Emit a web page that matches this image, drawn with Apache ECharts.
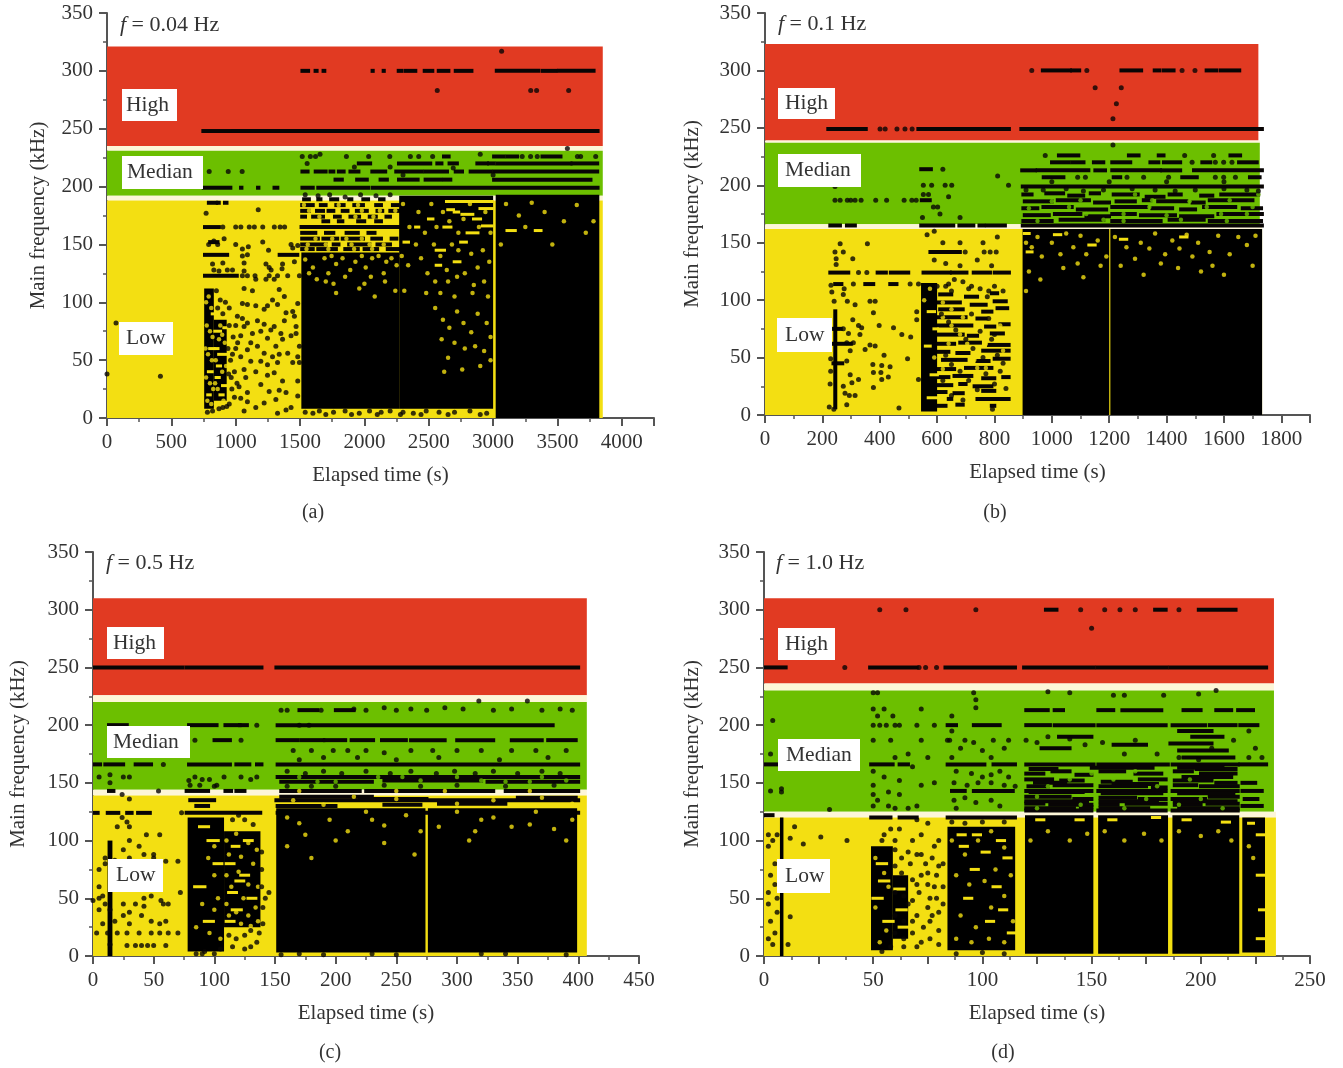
<!DOCTYPE html>
<html><head><meta charset="utf-8">
<script src="https://cdn.jsdelivr.net/npm/echarts@6/dist/echarts.min.js"></script>
<style>html,body{margin:0;background:#fff}#c{width:1343px;height:1068px}</style></head>
<body><div id="c"></div>
<script>
// ---------- panel (a) ----------
const bandsA=[[0,3852,235,321,'high'],[0,3852,231,235,'gap'],[0,3852,192,231,'mid'],[0,3852,188,192,'gap'],[0,3852,0,188,'low']];
const blocksA=[[755,830,8,112],[830,930,15,85],[1510,2270,8,143],[2270,3000,8,192],[3020,3825,0,193]];
const gapsA=[[800,830,60],[790,815,40],[820,830,90],[785,800,20],[840,880,75],[870,920,55],[850,870,35],[900,930,28],[880,900,20],[845,860,60],[910,930,78],[860,880,45],
[2640,2990,187],[2700,2730,178],[2850,2900,172],[2400,2420,165],[2500,2530,172],[2310,2340,152],[2750,2790,152],[2560,2620,145],[2560,2590,132],[2700,2740,135],[3110,3170,162],[3330,3370,162],[2650,2690,180],[2760,2840,176],[2900,2990,181],[2620,2670,165],[2800,2880,160],[2920,2990,166]];
const rowsA=[[1517,1564,300],[1619,1630,300],[1681,1690,300],[2062,2066,300],[2148,2152,300],[2265,2290,300],[2320,2397,300],[2467,2529,300],[2576,2654,300],[2708,2833,300],[3027,3354,300],[3385,3486,300],[3510,3782,300],
[747,957,248],[980,3813,248],
[750,960,199],[1040,1046,199],[1172,1178,199],[1300,1325,199],[1517,1600,199],[1640,2030,199],[2062,3813,199],
[1517,1560,213],[1620,1700,213],[1735,1760,213],[1800,1840,213],[1890,1955,213],[2060,2163,213],[2246,2448,213],[2474,2643,213],[2708,2760,213],[2824,2980,213],[3006,3810,213],
[1955,2046,220],[2267,2513,220],[2565,2600,220],[2660,2720,220],[2876,2954,220],[2967,3006,220],[3032,3603,220],[3615,3810,220],
[1774,1826,206],[1942,2020,206],[2124,2176,206],[2267,2415,206],[2474,2591,206],[2617,2669,206],[3006,3758,206],
[2617,2656,226],[3006,3084,226],[3110,3188,226],[3382,3525,226],
[1530,1570,189],[1640,1660,189],[1740,1790,189],[1880,1900,189],[1990,2030,189],[2120,2150,189],
[1515,1600,184],[1660,1700,184],[1780,1840,184],[1920,1990,184],[2090,2130,184],[2220,2260,184],
[1515,1570,179],[1630,1680,179],[1720,1760,179],[1830,1870,179],[1940,2020,179],[2100,2140,179],[2200,2265,179],
[1515,1540,174],[1600,1680,174],[1770,1810,174],[1890,1960,174],[2040,2090,174],[2170,2200,174],
[1680,1720,170],[1800,1830,170],[1950,2000,170],[2090,2130,170],[1510,2270,165],
[1515,1620,160],[1700,1760,160],[1860,1950,160],[2030,2080,160],
[1515,1640,155],[1680,1790,155],[1830,1990,155],[2060,2130,155],[2210,2250,155],
[1515,1700,150],[1760,1800,150],[1880,2040,150],[2100,2200,150],
[1515,1600,146],[1640,1780,146],[1850,1950,146],[2000,2100,146],[2180,2270,146],
[790,850,186],[860,870,186],[915,930,186],[760,870,165],[760,935,141],[1340,1480,141],[760,1010,123],[800,860,152]];
const holesA=[770,100,790,105,810,95,775,80,800,75,820,70,765,60,785,55,815,50,770,35,800,30,825,25,780,15,810,12,845,50,870,68,895,40,915,65,860,25,905,15,925,45,880,80,840,30,895,72,
1540,137,1570,125,1600,130,1630,120,1690,138,1720,125,1745,140,1780,133,1830,138,1850,122,1890,128,1930,135,1980,140,2010,130,2050,122,2060,138,2110,140,2150,125,2170,135,2210,138,2250,132,1700,118,1760,116,2000,116,2160,118,1960,112,2240,110,1780,108,2080,105,
1560,150,1620,155,1550,146,1700,150,1750,155,1720,146,1900,150,1860,155,1980,155,1920,146,2060,146,2150,150,2040,150,1530,184,1570,179,1650,174,1800,184,1950,184,1980,179,2120,179,2240,179,1930,174,2070,174,
2550,95,2610,85,2660,78,2720,92,2770,82,2830,74,2880,90,2950,82,2980,70,2600,68,2700,65,2780,60,2860,62,2930,58,2650,52,2980,50,2900,45,2620,40,2760,42,
2300,185,2350,165,2420,178,2470,160,2520,185,2560,165,2610,178,2660,170,2730,160,2770,172,2820,185,2890,165,2940,178,2980,160,2290,140,2340,132,2400,150,2440,138,2490,125,2540,150,2590,140,2640,128,2680,150,2730,145,2780,125,2830,142,2880,130,2920,145,2970,135,2310,110,2480,108,2550,118,2650,118,2720,122,2850,115,2930,118,2590,108,2700,105,2840,108,2960,105,
3060,150,3200,175,3250,165,3400,178,3550,170,3650,184,3720,160,3780,170,3460,150,3100,185,3300,186];
const greenA=[];
const dotsA=[0,38,70,82,415,36,1517,226,1555,220,1580,226,1620,226,1655,228,794,213,942,213,1050,213,3066,317,2566,283,3292,283,3338,283,3587,283,3577,233,1860,226,2033,226,2197,226,2357,226,2422,226,3226,226,3291,226,3343,226,3655,226,3680,226,3797,226,1922,217,2200,217,2300,210,2690,216,2530,226,2900,228,3000,210,
770,177,1175,180,900,165,1000,165,1040,165,1105,165,1145,165,1210,165,1300,165,1345,165,1380,165,
790,150,830,153,860,150,910,155,1000,150,1052,146,1098,148,1210,152,1255,145,1430,150,1482,149,1443,147,
1052,140,1091,141,1065,134,1065,127,1235,133,1260,130,1275,128,1364,133,1360,129,1456,135,820,133,900,134,830,128,870,127,935,128,975,128,
1052,123,1091,123,1150,123,1260,123,1325,123,1404,123,1495,123,1156,120,1235,120,1299,120,
1065,112,1130,110,1338,111,1378,105,1482,99,1052,99,1091,98,1156,97,1247,97,1286,102,1221,94,1325,98,1391,91,1443,92,1456,88,1013,88,1052,86,1091,82,1169,84,1221,81,1299,79,1378,84,1469,79,1065,79,1130,73,1195,75,1273,76,1351,73,1469,73,1039,71,1117,65,1169,62,1247,69,1312,62,1364,68,1430,71,1495,62,1091,59,1221,56,1286,53,1338,55,1404,56,1482,53,1039,53,1117,49,1195,49,1247,46,1325,48,1443,48,1495,48,1065,42,1156,40,1247,37,1299,39,1364,32,1482,32,1078,35,1026,27,1091,22,1195,29,1260,23,1338,24,1391,22,1482,19,1039,17,1156,9,1221,13,1325,4,1391,7,1430,9,1065,6,1312,16,1091,14,
850,110,880,102,920,100,950,95,860,95,900,90,950,80,980,70,960,50,990,40,970,25,950,12,990,18,1000,60,780,5,820,6,870,8,900,9,930,10,940,60,965,35,1010,30,1000,80,975,55,945,38,1015,65,
1540,5,1600,4,1650,6,1760,5,1850,6,1960,4,2040,6,2130,5,2200,6,2300,5,2380,4,2480,6,2580,5,2700,5,2820,6,2950,4,2280,3,2440,3,2650,3,2900,3,1700,3,1900,3,2100,3,
1540,193,1640,192,1730,193,1850,191,1970,193,2090,192,2200,193];

// ---------- panel (b) ----------
const bandsB=[[0,1720,239,323,'high'],[0,1725,237,239,'gap'],[0,1725,166,237,'mid'],[0,1733,162,166,'gap'],[0,1733,0,162,'low']];
const blocksB=[[238,252,5,92],[544,600,3,115],[898,1200,0,162],[1204,1733,0,162]];
const gapsB=[[905,920,158],[1010,1030,157],[915,930,142],[1130,1150,148],[1240,1260,153],[1450,1470,155],[560,575,60],[570,590,90],[580,600,35],[590,600,75],[570,600,15]];
const holesB=[910,150,930,146,950,155,965,138,1000,150,1030,140,1050,158,1075,146,1100,156,1120,140,1160,152,1190,138,1220,155,1260,146,1290,136,1310,150,1340,145,1360,158,1395,140,1420,152,1445,145,1470,157,1490,138,1510,150,1550,142,1580,156,1620,140,1650,155,1680,148,1710,156,920,125,960,118,1040,128,1110,120,1170,130,1320,122,1440,128,1520,125,1600,122,1700,130,910,108,1380,132,1240,130,1090,132,1560,130,
620,98,650,78,640,62,620,40,690,85,705,62,730,48,770,62,820,78,830,56,770,41,650,92,680,70,740,41,620,85,555,100,575,110,590,50];
const greenB=[1000,186,1060,181,1120,175,1180,170,1290,192,1340,181,1400,174,1480,186,1540,181,1620,187,1680,175,1700,181,950,169,1100,187,1250,169,1450,170,1610,169,1720,192,920,180,1250,175,1350,187,1590,175];
const rowsB=[[968,1064,300],[1070,1096,300],[1242,1312,300],[1358,1376,300],[1390,1425,300],[1539,1574,300],[1588,1654,300],
[220,352,249],[534,851,249],[893,1733,249],
[227,262,165],[285,314,165],[544,657,165],[677,727,165],[747,762,165],[773,837,165],[898,1733,165],
[546,575,187],[544,579,214],[898,1733,199],
[1024,1093,226],[1268,1303,226],[1372,1390,226],[1622,1657,226],
[1000,1058,220],[1070,1111,220],[1146,1180,220],[1210,1274,220],[1343,1372,220],[1390,1448,220],[1524,1553,220],[1652,1715,220],
[896,942,213],[950,1128,213],[1151,1186,213],[1210,1378,213],[1384,1448,213],[1495,1733,213],
[971,1041,207],[1215,1239,207],[1454,1506,207],[1690,1725,207],
[900,930,192],[980,1040,193],[1060,1110,191],[1135,1165,193],[1215,1300,192],[1330,1390,190],[1410,1450,192],[1520,1560,191],[1590,1720,192],
[905,1000,186],[1020,1130,187],[1150,1200,185],[1225,1290,186],[1320,1345,187],[1370,1470,186],[1490,1530,185],[1550,1700,187],
[900,950,180],[970,1070,181],[1090,1190,179],[1210,1330,181],[1350,1420,180],[1450,1500,179],[1530,1640,181],[1665,1730,180],
[905,990,174],[1010,1100,175],[1120,1200,173],[1210,1290,175],[1310,1430,174],[1450,1560,173],[1580,1733,175],
[900,1000,169],[1030,1180,170],[1210,1380,169],[1410,1530,170],[1550,1730,169],
[227,291,124],[392,422,124],[438,500,124],[552,645,124],[651,703,124],[727,785,124],[800,851,124],
[244,267,114],[349,378,114],[436,459,114],[576,680,142],[238,300,62],[240,265,75],[238,270,45],
[610,650,105],[700,740,103],[790,810,106],[600,680,98],[720,770,96],[800,840,99],[610,690,92],[760,790,90],[810,845,93],[600,700,85],[740,770,84],[600,720,78],[770,800,77],[820,850,79],[600,690,70],[710,740,69],[790,830,71],[600,660,62],[680,750,63],[780,850,61],[600,640,55],[670,710,54],[760,850,56],[620,700,48],[740,780,47],[800,850,49],[600,660,40],[700,790,41],[600,640,33],[660,720,34],[760,800,32],[830,850,33],[600,650,26],[680,700,27],[730,790,25],[600,630,20],[660,690,19],[760,800,21],[640,650,14],[740,850,14],[600,630,8],[670,690,9],[790,800,8]];
const dotsB=[930,300,1122,300,1454,300,1499,300,1151,285,1242,285,1225,271,1213,258,1213,235,401,249,419,249,460,249,488,249,513,249,
977,226,1463,226,1564,226,1489,220,1570,220,1599,220,1628,220,1090,207,1117,207,1262,207,1320,207,1407,207,1570,207,1599,207,1640,207,
244,187,262,187,287,187,299,187,314,187,335,187,386,187,424,187,485,187,512,187,527,187,244,199,552,200,581,200,628,200,651,200,849,200,620,214,811,208,640,190,552,192,570,192,587,181,602,181,549,172,610,175,680,172,
224,7,240,5,467,6,793,5,262,149,357,149,244,142,273,142,248,136,306,136,248,131,230,113,276,110,233,107,273,105,241,99,287,99,314,96,366,99,384,99,378,89,529,90,529,83,306,83,326,78,337,76,398,78,448,76,477,70,508,68,273,75,291,71,331,70,308,63,285,63,384,60,366,61,349,57,297,56,415,52,497,49,285,47,376,44,407,43,436,42,378,37,404,37,407,31,430,33,378,24,297,35,326,31,303,28,273,25,279,19,314,17,294,17,285,9,535,31,229,49,229,38,227,27,
326,124,355,124,308,114,506,114,535,114,698,142,764,142,785,142,806,142,620,150,680,150,760,150,810,155,565,157,590,160,630,132,680,130,790,130,590,135,740,135,800,112,720,112,640,114,690,116,650,108,780,108,
615,88,640,81,665,74,700,66,725,58,760,50,790,66,810,52,830,45,720,88,750,73,780,84,800,70,630,52,650,44,680,38,710,30,740,22,770,36,800,27,840,23,620,30,650,17,690,13,820,38,600,112,630,112,660,118,710,110,750,110,775,103,830,108,
910,196,970,196,1050,197,1110,195,1180,196,1280,197,1360,196,1430,195,1500,196,1600,197,1680,196,1720,195,1000,203,1200,203,1400,203,1600,203];

// ---------- panel (c) ----------
const bandsC=[[0,407,226,310,'high'],[0,407,220,226,'gap'],[0,407,144,220,'mid'],[0,407,139,144,'gap'],[0,407,0,139,'low']];
const blocksC=[[12,16,0,100],[78,108,4,120],[108,138,25,108],[151,274,3,128],[276,399,3,128]];
const gapsC=[[95,103,100],[88,95,112],[84,92,60],[92,99,30],[100,106,80],[115,120,95],[110,116,80],[122,128,70],[112,118,55],[128,134,50],[115,122,40],[110,116,30],[125,131,100],[118,124,65]];
const holesC=[110,100,118,106,128,98,135,92,112,88,122,86,132,80,110,70,120,73,128,62,136,60,114,60,124,50,134,42,110,45,118,38,128,35,136,30,112,35,122,28,130,26,100,95,95,85,103,50,90,45,100,40,96,20,85,25,105,15,100,70,
160,120,175,105,195,118,210,108,225,125,240,113,258,122,270,108,285,112,300,125,315,108,330,120,345,112,365,125,380,110,395,118,160,95,200,100,240,98,310,100,390,100,180,85,265,88,170,115,230,118,320,118,360,114,
165,135,190,131,215,138,250,136,300,132,330,135,370,137,395,132,170,143,250,143,290,143,360,143];
const greenC=[170,155,200,151,235,155,270,152,300,155,340,151,370,155,390,152,185,151,255,155,320,152,360,151];
const rowsC=[[0,74,250],[77,139,250],[151,400,250],
[13,28,200],[79,102,200],[109,121,200],[121,127,200],[152,379,200],
[100,113,187],[152,169,187],[172,190,187],[191,208,187],[213,231,187],[238,258,187],[262,290,187],[300,330,187],[345,370,187],[375,398,187],
[170,185,213],[200,215,213],
[0,6,166],[10,25,166],[35,48,166],[79,113,166],[118,129,166],[135,139,166],[152,400,166],
[152,400,155],[155,230,151],[240,320,152],[325,400,151],
[13,17,143],[77,95,143],[109,114,143],[118,125,143],[155,220,143],[225,330,143],[340,400,143],
[0,4,124],[12,21,124],[28,32,124],[37,47,124],[77,138,124],[152,400,124],
[151,400,135],[155,230,138],[240,270,131],[285,340,132],[350,398,137],[80,100,135],[85,95,130],[152,200,130],[220,275,136]];
const dotsC=[73,124,54,143,84,187,122,187,135,200,58,166,
5,155,14,157,25,155,30,155,14,150,79,152,84,155,90,153,96,153,102,148,108,155,122,155,130,153,135,155,80,148,88,148,100,147,
155,213,160,213,170,200,178,200,188,213,215,214,225,213,240,215,250,213,262,214,275,213,290,215,305,214,318,221,330,213,345,214,358,221,370,213,385,214,395,213,
165,178,180,178,198,178,210,178,225,178,240,176,262,178,280,178,300,178,320,178,345,178,365,178,390,178,170,170,190,172,218,172,250,170,285,172,335,170,375,172,
24,140,30,136,24,120,28,116,20,112,30,112,44,105,55,105,30,100,38,95,25,92,42,88,50,88,10,85,18,83,30,85,50,85,60,82,70,82,10,80,20,78,5,75,15,75,45,70,55,70,72,55,5,60,8,52,42,50,48,52,56,48,58,45,62,45,0,48,5,50,10,45,14,40,25,45,35,45,42,43,30,38,40,35,25,35,5,40,18,30,30,28,48,30,55,28,60,30,8,28,3,20,12,20,20,20,28,20,38,20,48,20,55,20,62,20,70,20,14,10,28,9,35,9,40,9,45,9,50,9,60,9,
85,2,92,4,105,6,115,8,125,6,130,8,135,12,140,28,142,50,145,55,115,118,125,118,132,114,120,122,139,60,139,75,139,90,140,42,137,20,118,15,112,18,125,18,130,22,90,2,100,2,
155,1,170,2,190,1,230,2,250,1,320,2,340,2,390,1,
160,160,175,158,190,160,205,158,225,160,245,158,262,160,283,158,298,160,315,158,330,160,350,158,370,160,385,158,160,147,180,147,200,147,240,148,270,147,300,148,340,147,380,148];

// ---------- panel (d) ----------
const bandsD=[[0,233.5,236,310,'high'],[0,233.5,230,236,'gap'],[0,233.5,125,230,'mid'],[0,234.4,120,125,'gap'],[0,234.4,0,120,'low']];
const blocksD=[[7.3,8.9,0,120],[49,59,5,95],[59,66,15,70],[84,115,5,112],[119.5,150.8,2,122],[153,185,2,122],[187,217.6,2,122],[219,229.4,3,120]];
const gapsD=[[52,56,80],[53,57,65],[50,54,50],[55,59,30],[60,64,58],[61,65,40],[62,66,25],[90,93,95],[100,103,90],[107,110,100],[95,98,75],[105,108,60],[108,111,40],[92,95,50],[102,105,30],[89,92,105],[110,113,85],[112,115,20],[96,99,105],
[125,128,118],[143,146,118],[158,161,118],[178,181,120],[192,195,118],[210,213,116],[222,224,115],[226,229,105],[226,229,70],[227,229,40],[226,229,15]];
const holesD=[51,85,55,72,57,60,51,42,56,22,53,12,86,100,92,88,98,100,104,108,110,94,88,70,94,62,101,65,106,75,113,70,90,35,97,25,104,42,110,52,114,30,88,15,95,12,103,15,110,12,
122,100,130,108,140,100,148,106,156,108,165,100,174,106,182,100,190,108,200,104,208,108,214,100,222,95,224,85];
const greenD=[125,128,145,131,165,128,175,136,130,147,140,153,150,158,180,147,195,153,210,128,160,153,125,138,200,136,170,160,190,131];
const rowsD=[[129,134,300],[179,184,300],[199,216,300],[0,10,250],[48.5,70,250],[83,115,250],[119,151,250],[152.5,184.5,250],[186,230,250],
[0,6,166],[49,59,166],[62,66,166],[84,101,166],[105,115,166],[120,151,166],[153,185,166],[187,217,166],[218,230,166],
[84,88,200],[96,108,200],[120,131,200],[133,151,200],[153,184,200],[187,202,200],[204,216,200],[218,226,200],
[120,130,213],[133,137,213],[153,160,213],[164,182,213],[192,200,213],[207,214,213],[217,224,213],
[86,92,143],[96,114,143],[120,150,143],[153,184,143],[187,217,143],[219,228,143],
[120,150,126],[153,184,126],[187,217,126],[49,58,120],[62,70,120],[84,115,120],[0,4,122],
[120,128,158],[132,140,160],[143,150,157],[154,165,160],[170,182,158],[188,196,160],[200,216,158],
[120,132,153],[136,146,152],[155,168,151],[172,184,153],[188,205,152],[207,216,150],
[121,130,147],[133,150,148],[154,175,147],[178,184,146],[188,198,148],[200,217,147],
[120,140,138],[142,150,136],[154,170,137],[172,184,136],[187,202,136],[204,217,138],
[120,128,132],[131,150,131],[154,162,131],[166,184,132],[188,200,131],[203,217,132],
[120,142,128],[145,150,129],[154,176,128],[190,217,128],[219,228,130],[220,226,136],[219,225,150],
[120,148,134],[154,180,134],[188,216,134],[122,146,142],[155,182,141],[190,215,141],[124,138,150],[160,180,149],[192,214,155],[198,216,162],[190,210,163],[150,178,163],[122,134,162],
[186,205,184],[190,212,178],[192,215,172],[196,210,190],[135,150,190],[160,175,183],[127,140,180],[190,205,195]];
const dotsD=[53,300,65,300,97,300,145,300,156,300,163,300,170,300,190,300,150,284,37,250,71,250,74,250,79,250,
50,228,52,228,96,228,97,222,97,215,130,229,140,228,160,226,165,226,183,226,207,230,199,227,
50,214,55,214,72,214,86,208,52,208,59,208,60,200,50,200,53,200,56,200,62,200,70,200,78,200,72,187,85,187,
50,187,58,187,66,175,75,172,60,172,68,164,50,160,55,155,62,152,72,148,78,150,50,148,50,140,57,142,62,140,52,135,57,130,66,128,70,130,50,130,60,128,
86,195,90,180,84,187,92,187,96,185,105,187,112,187,100,178,104,172,110,180,86,172,88,160,95,158,100,155,104,157,108,160,112,155,87,150,93,148,98,150,104,150,110,148,115,147,87,135,92,137,97,133,104,135,108,130,88,128,
120,187,125,185,130,190,140,188,147,183,155,185,165,175,170,187,180,175,190,172,199,170,205,180,215,187,222,195,225,180,228,172,222,172,
4,204,3,175,8,142,8,145,30,127,3,143,
14,112,12,102,18,97,26,103,38,100,2,105,4,100,2,95,5,80,10,80,3,70,5,62,2,55,6,50,2,45,6,38,3,30,5,20,4,10,2,15,10,58,12,34,11,10,6,105,
68,100,72,105,78,95,72,88,80,78,75,72,70,62,78,60,68,48,76,50,82,45,70,35,76,30,80,22,68,20,72,12,62,110,60,100,66,90,55,105,80,100,82,80,82,60,80,38,64,15,58,8,54,4,
60,92,63,85,67,80,70,88,74,80,77,85,60,78,63,72,68,66,72,70,75,62,79,70,60,55,64,52,66,45,71,55,75,42,79,50,60,35,64,30,68,30,73,25,77,35,60,20,64,8,70,8,76,15,80,10,54,100,58,110,70,118,75,115,
86,116,92,115,100,116,110,116,88,2,100,3,110,2];

// ---------- shared labels ----------
const panelNames=['(a)','(b)','(c)','(d)'];
const freqLabels=['f = 0.04 Hz','f = 0.1 Hz','f = 0.5 Hz','f = 1.0 Hz'];
const zoneLabels=['High','Median','Low'];
const xMax=[4250,1900,450,250], xStep=[500,200,50,25], xLabelStep=[500,200,50,50];

const layout=[
 {l:107,r:654,t:13,b:418,yGap:69,cap:[313,513],f:[120,25],boxes:[[122,89,55,32,4],[122,156,81,33,5],[119,322,54,33,7]]},
 {l:765,r:1310,t:13,b:415,yGap:73,cap:[995,513],f:[778,24],boxes:[[778,88,57,31,7],[778,154,83,33,7],[777,318,55,34,8]]},
 {l:93,r:639,t:552,b:956,yGap:75,cap:[330,1053],f:[106,563],boxes:[[107,627,57,32,6],[107,726,83,32,6],[108,859,55,33,8]]},
 {l:764,r:1310,t:552,b:956,yGap:72,cap:[1003,1053],f:[776,563],boxes:[[778,628,57,32,7],[778,739,82,32,8],[777,859,53,34,8]]}];
const bandColor={high:'#e13a22',gap:'#fdf6d8',mid:'#6cbf00',low:'#f3df12'};
const txt='#333', ax='#555', serif='"Liberation Serif",serif', fs=21;
const pairs=a=>{const o=[];for(let i=0;i<a.length;i+=2)o.push([a[i],a[i+1]]);return o;};
const rectItem=(color)=>(p,api)=>{const a=api.coord([api.value(0),api.value(3)]),b=api.coord([api.value(1),api.value(2)]);
 return {type:'rect',shape:{x:a[0],y:a[1],width:b[0]-a[0],height:b[1]-a[1]},style:{fill:color}};};
const rowItem=(color,h)=>(p,api)=>{const a=api.coord([api.value(0),api.value(2)]),b=api.coord([api.value(1),api.value(2)]);
 return {type:'rect',shape:{x:a[0]-1.8,y:a[1]-h/2,width:b[0]-a[0]+3.6,height:h},style:{fill:color}};};
const bandItem=(p,api)=>{const a=api.coord([api.value(0),api.value(3)]),b=api.coord([api.value(1),api.value(2)]);
 return {type:'rect',shape:{x:a[0],y:a[1],width:b[0]-a[0],height:b[1]-a[1]},style:{fill:bandColor[api.value(4)]}};};
const all=[[bandsA,blocksA,gapsA,rowsA,dotsA,holesA,greenA],[bandsB,blocksB,gapsB,rowsB,dotsB,holesB,greenB],[bandsC,blocksC,gapsC,rowsC,dotsC,holesC,greenC],[bandsD,blocksD,gapsD,rowsD,dotsD,holesD,greenD]];
const grid=[],xAxis=[],yAxis=[],series=[],graphic=[];
layout.forEach((L,i)=>{
 grid.push({left:L.l,top:L.t,width:L.r-L.l,height:L.b-L.t});
 const tick={show:true,length:8,lineStyle:{color:ax,width:2}}, minor={show:true,splitNumber:2,length:4,lineStyle:{color:ax,width:1.5}};
 xAxis.push({gridIndex:i,type:'value',min:0,max:xMax[i],interval:xStep[i],name:'Elapsed time (s)',nameLocation:'middle',nameGap:47,
  nameTextStyle:{fontFamily:serif,fontSize:fs,color:txt},axisLine:{show:true,onZero:false,lineStyle:{color:ax,width:2}},axisTick:tick,minorTick:minor,splitLine:{show:false},minorSplitLine:{show:false},
  axisLabel:{fontFamily:serif,fontSize:fs,color:txt,margin:14,showMaxLabel:xMax[i]%xLabelStep[i]===0,showMinLabel:true,hideOverlap:false,formatter:v=>v%xLabelStep[i]===0?String(v):''}});
 yAxis.push({gridIndex:i,type:'value',min:0,max:350,interval:50,name:'Main frequency (kHz)',nameLocation:'middle',nameGap:L.yGap-11,
  nameTextStyle:{fontFamily:serif,fontSize:fs,color:txt},axisLine:{show:true,onZero:false,lineStyle:{color:ax,width:2}},axisTick:tick,minorTick:minor,splitLine:{show:false},minorSplitLine:{show:false},
  axisLabel:{fontFamily:serif,fontSize:fs,color:txt,margin:14}});
 const [bands,blocks,gaps,rows,dots,holes,green]=all[i];
 const base={xAxisIndex:i,yAxisIndex:i,silent:true,animation:false,clip:true};
 series.push({...base,type:'custom',z:2,renderItem:bandItem,data:bands,encode:{x:[0,1],y:[2,3]}});
 series.push({...base,type:'custom',z:3,renderItem:rowItem('#080505',4),data:rows,encode:{x:[0,1],y:2}});
 series.push({...base,type:'custom',z:4,renderItem:rectItem('#000'),data:blocks,encode:{x:[0,1],y:[2,3]}});
 series.push({...base,type:'custom',z:5,renderItem:rowItem(bandColor.low,3),data:gaps,encode:{x:[0,1],y:2}});
 series.push({...base,type:'scatter',z:5,symbolSize:4.5,itemStyle:{color:bandColor.low},data:pairs(holes)});
 series.push({...base,type:'scatter',z:5,symbolSize:4.5,itemStyle:{color:bandColor.mid},data:pairs(green)});
 series.push({...base,type:'scatter',z:6,symbolSize:5,itemStyle:{color:'#080505'},data:pairs(dots)});
 L.boxes.forEach((B,k)=>{
  graphic.push({type:'rect',z:20,shape:{x:B[0],y:B[1],width:B[2],height:B[3]},style:{fill:'#fff'}});
  graphic.push({type:'text',z:21,x:B[0]+B[4],y:B[1]+B[3]/2,style:{text:zoneLabels[k],font:'21.5px '+serif,fill:txt,verticalAlign:'middle'}});
 });
 const s=freqLabels[i];
 graphic.push({type:'text',z:21,x:L.f[0],y:L.f[1],style:{text:'{i|f}{n|'+s.slice(1)+'}',verticalAlign:'middle',rich:{i:{font:'italic 22px '+serif,fill:txt},n:{font:'22px '+serif,fill:txt}}}});
 graphic.push({type:'text',z:21,x:L.cap[0],y:L.cap[1],style:{text:panelNames[i],font:'20px '+serif,fill:txt,align:'center',verticalAlign:'middle'}});
});
const chart=echarts.init(document.getElementById('c'),null,{renderer:'canvas'});
chart.setOption({animation:false,backgroundColor:'#fff',grid,xAxis,yAxis,series,graphic});
</script></body></html>
